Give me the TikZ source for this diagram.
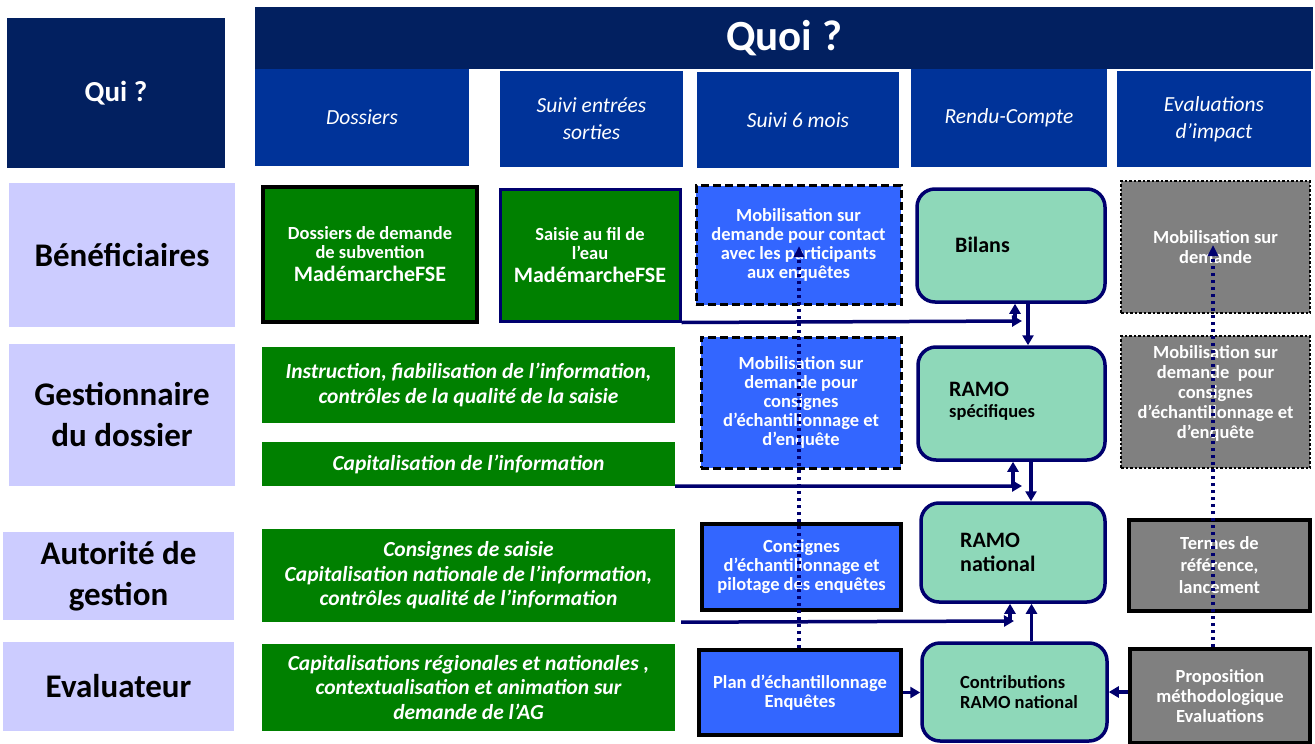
\documentclass[tikz,border=0pt]{standalone}
\usepackage{fontspec}
\setmainfont{Carlito}
\usetikzlibrary{arrows.meta}
\definecolor{navyd}{RGB}{2,32,96}
\definecolor{headblue}{RGB}{0,51,153}
\definecolor{lav}{RGB}{204,204,255}
\definecolor{grn}{RGB}{0,128,0}
\definecolor{blu}{RGB}{51,102,255}
\definecolor{mint}{RGB}{142,216,185}
\definecolor{gry}{RGB}{128,128,128}
\definecolor{arrnavy}{RGB}{0,0,110}
\newcommand{\fs}[2]{\fontsize{#1}{#2}\selectfont}
\tikzset{
  sz/.style 2 args={minimum width=#1, minimum height=#2},
  base/.style={inner sep=0, align=center, text=white},
  qbox/.style={base, fill=navyd},
  hbox/.style={base, fill=headblue, font=\itshape\fs{21.5}{27}},
  who/.style={base, fill=lav, text=black, font=\bfseries\fs{33}{41}},
  gbox/.style={base, fill=grn, font=\bfseries\itshape\fs{21.5}{24.5}},
  gsaisie/.style={base, fill=grn, line width=4, font=\bfseries\fs{18.5}{19}},
  bbox/.style={base, fill=blu, draw=black, font=\bfseries\fs{18.5}{19}},
  graybox/.style={base, fill=gry, draw=black, font=\bfseries\fs{18.5}{19.5}},
  dashbox/.style={line width=3, dash pattern=on 8pt off 4pt},
  dotbox/.style={line width=2.5, dash pattern=on 2.5pt off 2pt},
  solidbox/.style={line width=4},
  mintbox/.style={fill=mint, draw=arrnavy, line width=3.5, rounded corners=18, inner sep=0},
  mtext/.style={anchor=west, align=left, inner sep=0, text=black},
  arr/.style={draw=arrnavy, line width=3.5, -{Triangle[length=10pt, width=11pt]}},
  darr/.style={draw=arrnavy, line width=3.5, dash pattern=on 3.5pt off 3.5pt, -{Triangle[length=11pt, width=10pt]}}
}
\begin{document}
\begin{tikzpicture}[x=1pt, y=-1pt]
  \useasboundingbox (0,0) rectangle (1315,744);
  \node[qbox, sz={218}{150}, font=\bfseries\fs{29}{34}] (qui) at (116,93) {Qui ?};
  \node[qbox, sz={1058}{62}, font=\bfseries\fs{43}{48}] (quoi) at (784,38) {Quoi ?};
  \foreach \n/\x/\y/\w/\h/\t in {dos/362/117.5/214/97/Dossiers,
      ent/591.5/119/183/96/{Suivi entrées\\sorties},
      six/798/120/202/96/{Suivi 6 mois},
      rendu/1009/118/196/98/Rendu-Compte,
      impact/1214/119/194/96/{Evaluations\\d’impact}}
    \node[hbox, sz={\w}{\h}] (\n) at (\x,\y) {\t};
  \foreach \n/\x/\y/\w/\h/\t in {benef/122/255/226/144/Bénéficiaires,
      gest/122/415/226/142/{Gestionnaire\\du dossier},
      autor/118.5/576/231/88/{Autorité de\\gestion},
      evalu/118.5/686.5/231/89/Evaluateur}
    \node[who, sz={\w}{\h}] (\n) at (\x,\y) {\t};

  \node[gsaisie, draw=black, sz={214}{135}] (dossd) at (370,254.5)
    {Dossiers de demande\\de subvention\\[4pt]{\fs{22}{24}MadémarcheFSE}};
  \node[gsaisie, draw=arrnavy, line width=3, sz={180}{132}] (saisie) at (590,255)
    {Saisie au fil de\\l’eau\\[4pt]{\fs{22}{24}MadémarcheFSE}};
  \node[gbox, sz={413}{76}] (instr) at (468.5,385)
    {Instruction, fiabilisation de l’information,\\contrôles de la qualité de la saisie};
  \node[gbox, sz={413}{44}] (capit) at (468.5,464) {Capitalisation de l’information};
  \node[gbox, sz={413}{93}] (consg) at (468.5,575.5)
    {Consignes de saisie\\Capitalisation nationale de l’information,\\contrôles qualité de l’information};
  \node[gbox, sz={413}{87}] (capreg) at (468.5,687.5)
    {Capitalisations régionales et nationales ,\\contextualisation et animation sur\\demande de l’AG};

  \node[bbox, dashbox, sz={205}{119}] (mob1) at (798.5,245)
    {Mobilisation sur\\demande pour contact\\avec les participants\\aux enquêtes};
  \node[bbox, dashbox, sz={200}{131}] (mob2) at (801,402.5)
    {Mobilisation sur\\demande pour\\consignes\\d’échantillonnage et\\d’enquête};
  \node[bbox, solidbox, sz={199}{86}] (consb) at (801.5,567)
    {Consignes\\d’échantillonnage et\\pilotage des enquêtes};
  \node[bbox, solidbox, sz={202}{85}] (plan) at (800,692.5)
    {Plan d’échantillonnage\\Enquêtes};

  \node[mintbox, sz={188}{113}] (bilans) at (1011,245.5) {};
  \node[mintbox, sz={187}{113}] (ramos) at (1011.5,403.5) {};
  \node[mintbox, sz={184}{99}] (ramon) at (1013,552.5) {};
  \node[mintbox, sz={185}{98}] (contrib) at (1014.5,692) {};
  \node[mtext, font=\bfseries\fs{22}{24}] (bilans-t) at (955,245) {Bilans};
  \node[mtext, font=\bfseries\fs{18.5}{21}] (ramos-t) at (949,401)
    {{\fs{22}{24}RAMO}\\spécifiques};
  \node[mtext, font=\bfseries\fs{22}{24}] (ramon-t) at (960,552) {RAMO\\national};
  \node[mtext, font=\bfseries\fs{18.5}{20}] (contrib-t) at (960,692)
    {Contributions\\RAMO national};

  \node[graybox, dotbox, sz={189}{132}] (mobg1) at (1215.5,247) {Mobilisation sur\\demande};
  \node[graybox, dotbox, sz={189}{132}, font=\bfseries\fs{18.5}{20}] (mobg2) at (1215.5,402)
    {Mobilisation sur\\demande~ pour\\consignes\\d’échantillonnage et\\d’enquête\\~};
  \node[graybox, solidbox, sz={181}{91}, font=\bfseries\fs{18.5}{22}] (termes) at (1219.5,565)
    {Termes de\\référence,\\lancement};
  \node[graybox, solidbox, sz={180}{94}, font=\bfseries\fs{18.5}{20}] (propo) at (1220,696)
    {Proposition\\méthodologique\\Evaluations};

  \coordinate (b1) at (1022,321);
  \coordinate (b2) at (1022,486);
  \coordinate (b3) at (1014,621);
  \draw[arr] (saisie.south east) -- (b1);
  \draw[arr] ([xshift=-7]b1) -- ([xshift=-7]b1 |- bilans.south);
  \draw[arr] ([xshift=17]bilans.south) -- ([xshift=17]bilans.south |- ramos.north);
  \draw[arr] (capit.south east) -- (b2);
  \draw[arr] ([xshift=-9]b2) -- ([xshift=-9]b2 |- ramos.south);
  \draw[arr] ([xshift=19.5]ramos.south) -- ([xshift=19.5]ramos.south |- ramon.north);
  \draw[arr] ([xshift=6]consg.south east) -- (b3);
  \draw[arr] ([xshift=-4]b3) -- ([xshift=-4]b3 |- ramon.south);
  \draw[arr] ([xshift=17]contrib.north) -- ([xshift=17]contrib.north |- ramon.south);
  \draw[arr] (plan.east) -- (plan.east -| contrib.west);
  \draw[arr] (propo.west |- contrib.east) -- (contrib.east);

  \coordinate (t1) at (799,246);
  \coordinate (t2) at (1213,245);
  \draw[darr] (plan.north -| t1) -- (t1);
  \draw[darr] (propo.north -| t2) -- (t2);
\end{tikzpicture}
\end{document}
